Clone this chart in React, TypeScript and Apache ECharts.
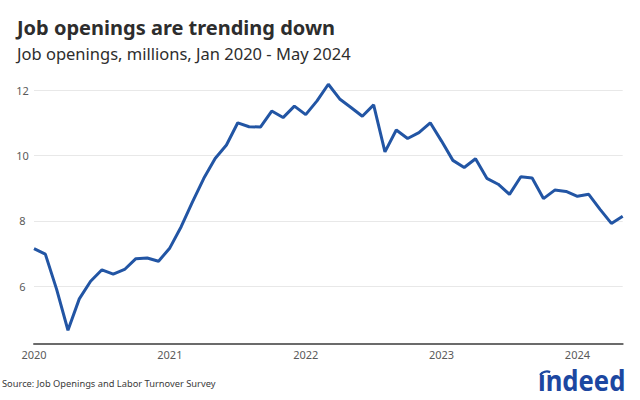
import React, { useEffect, useRef } from "react";
import * as echarts from "echarts";

const months: string[] = [];
const years = [2020, 2021, 2022, 2023, 2024];
years.forEach((y) => {
  const n = y === 2024 ? 5 : 12;
  for (let m = 1; m <= n; m++) months.push(`${y}-${String(m).padStart(2, "0")}`);
});

const openings2020 = [7.15, 6.98, 5.9, 4.65, 5.61, 6.15, 6.5, 6.37, 6.51, 6.84, 6.86, 6.76];
const openings2021 = [7.17, 7.82, 8.58, 9.3, 9.91, 10.32, 11.0, 10.88, 10.87, 11.36, 11.16, 11.51];
const openings2022 = [11.25, 11.67, 12.18, 11.73, 11.47, 11.2, 11.55, 10.11, 10.78, 10.52, 10.7, 11.0];
const openings2023 = [10.44, 9.85, 9.63, 9.9, 9.3, 9.12, 8.81, 9.35, 9.31, 8.68, 8.94, 8.9];
const openings2024 = [8.75, 8.81, 8.35, 7.92, 8.14];
const openings = [...openings2020, ...openings2021, ...openings2022, ...openings2023, ...openings2024];

const yTicks = [6, 8, 10, 12];

const FONT = "'Noto Sans', 'Open Sans', sans-serif";

export default function App() {
  const ref = useRef<HTMLDivElement>(null);
  useEffect(() => {
    if (!ref.current) return;
    const chart = echarts.init(ref.current, undefined, { renderer: "svg" });
    chart.setOption({
      animation: false,
      backgroundColor: "#ffffff",
      grid: { left: 34, right: 17.3, top: 73.8, bottom: 56.7, containLabel: false },
      xAxis: {
        type: "category",
        data: months,
        boundaryGap: false,
        axisLine: { show: true, lineStyle: { color: "#6b6b6b", width: 2 } },
        axisTick: { show: false },
        axisLabel: {
          interval: (idx: number) => idx % 12 === 0,
          formatter: (v: string) => v.slice(0, 4),
          color: "#5a5a5a",
          fontSize: 11,
          fontFamily: FONT,
          margin: 6,
        },
        splitLine: { show: false },
      },
      yAxis: {
        type: "value",
        min: 4.25,
        max: 12.5,
        axisLine: { show: false },
        axisTick: { show: false, customValues: yTicks },
        axisLabel: {
          customValues: yTicks,
          color: "#5a5a5a",
          fontSize: 11,
          fontFamily: FONT,
          align: "center",
          margin: 11.5,
        },
        splitLine: { show: true, lineStyle: { color: "#e8e8e8", width: 1 } },
      },
      series: [
        {
          type: "line",
          data: openings,
          symbol: "none",
          lineStyle: { color: "#2255a4", width: 3 },
          itemStyle: { color: "#2255a4" },
        },
      ],
      graphic: [
        {
          type: "text",
          left: 17,
          top: 17,
          style: {
            text: "Job openings are trending down",
            font: `bold 20px ${FONT}`,
            fill: "#2d2d2d",
          },
        },
        {
          type: "text",
          left: 17,
          top: 45,
          style: {
            text: "Job openings, millions, Jan 2020 - May 2024",
            font: `16.5px ${FONT}`,
            fill: "#2d2d2d",
          },
        },
        {
          type: "text",
          left: 2,
          top: 379,
          style: {
            text: "Source: Job Openings and Labor Turnover Survey",
            font: `9.3px ${FONT}`,
            fill: "#3a3a3a",
          },
        },
        {
          type: "text",
          x: 538,
          y: 365,
          scaleX: 0.95,
          scaleY: 1.08,
          style: {
            text: "\u0131ndeed",
            font: `bold 27px ${FONT}`,
            lineHeight: 27,
            fill: "#1c47a1",
            verticalAlign: "top",
            align: "left",
          },
        },
        {
          type: "arc",
          shape: { cx: 547, cy: 380, r: 8.5, startAngle: Math.PI * 1.2, endAngle: Math.PI * 1.62 },
          style: { stroke: "#1c47a1", lineWidth: 2.3, fill: "none" },
        },
      ],
    });
    return () => chart.dispose();
  }, []);
  return <div ref={ref} style={{ width: 640, height: 400, position: "absolute", left: 0, top: 0 }} />;
}
